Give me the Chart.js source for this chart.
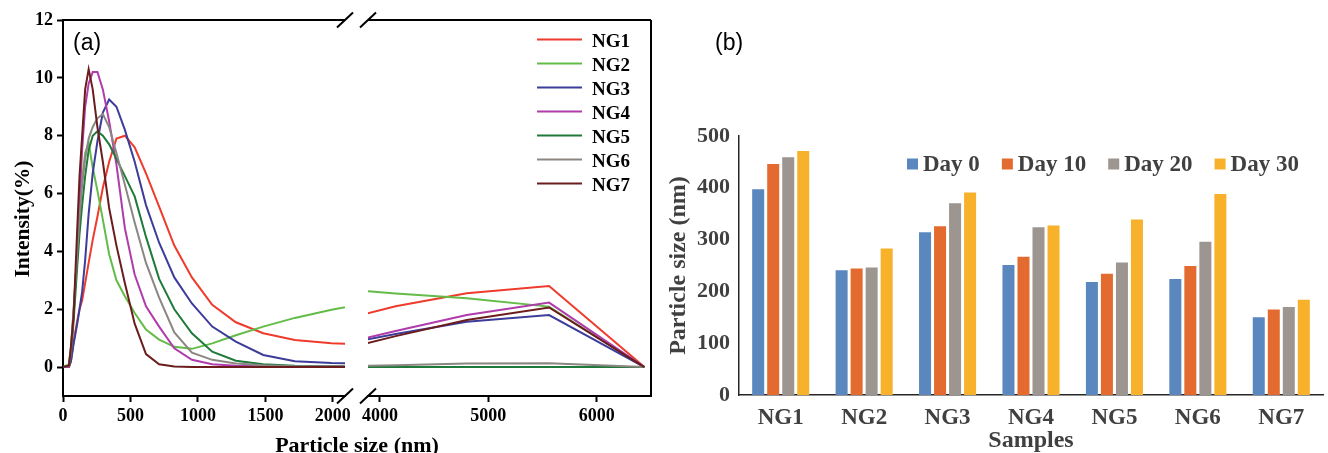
<!DOCTYPE html>
<html>
<head>
<meta charset="utf-8">
<script src="https://cdn.jsdelivr.net/npm/chart.js@4.4.1/dist/chart.umd.min.js"></script>
<style>
  body { margin: 0; background: #fff; }
  #wrap { position: relative; width: 1328px; height: 453px; overflow: hidden; background: #fff; }
  canvas { position: absolute; top: 0; }
  .lbl { position: absolute; white-space: nowrap; color: #000; }
  .panel { font: 23px "Liberation Sans", Arial, sans-serif; line-height: 23px; top: 31px; }
  .ttl { font: bold 22px "Liberation Serif", "Times New Roman", serif; line-height: 24px; text-align: center; width: 240px; }
</style>
</head>
<body>
<div id="wrap">
  <canvas id="chart-left" width="360" height="453" style="left:0"></canvas>
  <canvas id="chart-right" width="315" height="453" style="left:350px"></canvas>
  <canvas id="chart-bar" width="688" height="453" style="left:640px"></canvas>
  <div class="lbl panel" style="left:73px">(a)</div>
  <div class="lbl panel" style="left:715px">(b)</div>
  <div class="lbl ttl" style="left:-98px; top:207px; transform: rotate(-90deg); font-size:21.5px">Intensity(%)</div>
  <div class="lbl ttl" style="left:237px; top:433px">Particle size (nm)</div>
</div>
<script>
// (a) size distribution, DLS bins in nm (null = inside the axis break)
const sizes = [0.4, 43.82, 58.77, 78.82, 105.7, 122.4, 141.8, 164.2, 190.1, 220.2, 255.0, 295.3,
    342.0, 396.1, 458.7, 531.2, 615.1, 712.4, 825.0, 955.4, 1106, 1281, 1484, 1718, 1990, 2305,
    2669, 3091, 3580, 4145, 4801, 5560, 6439]

const ng1 = [0, 0, 0.2, 0.9, 1.6, 2.0, 2.3, 2.9, 3.6, 4.4, 5.2, 6.2, 7.1, 7.9, 8.0, 7.6, 6.7, 5.55,
    4.2, 3.1, 2.15, 1.55, 1.17, 0.94, 0.82, 0.78, null, null, 1.57, 2.1, 2.55, 2.8, 0]
const ng2 = [0, 0.1, 0.7, 2.0, 4.0, 5.3, 6.5, 7.4, 7.75, 6.9, 6.1, 5.1, 3.9, 3.0, 2.45, 1.87, 1.3, 0.95,
    0.7, 0.63, 0.82, 1.1, 1.4, 1.7, 1.98, 2.26, null, null, 2.72, 2.54, 2.38, 2.09, 0]
const ng3 = [0, 0, 0.2, 0.8, 1.5, 2.0, 2.6, 3.7, 5.3, 6.7, 7.8, 8.8, 9.25, 9.0, 8.2, 7.1, 5.6, 4.3,
    3.1, 2.2, 1.4, 0.88, 0.42, 0.2, 0.14, 0.12, null, null, 0.75, 1.14, 1.57, 1.8, 0]
const ng4 = [0, 0, 0.5, 1.8, 4.0, 5.8, 7.5, 9.0, 9.8, 10.2, 10.2, 9.6, 8.5, 7.0, 4.8, 3.2, 2.1, 1.4,
    0.65, 0.25, 0.1, 0.05, 0.03, 0.02, 0.02, 0.02, null, null, 0.75, 1.25, 1.8, 2.23, 0]
const ng5 = [0, 0.05, 0.5, 1.6, 3.5, 4.6, 5.6, 6.6, 7.5, 8.0, 8.15, 8.0, 7.7, 7.2, 6.6, 5.9, 4.5, 3.05,
    2.0, 1.17, 0.53, 0.22, 0.1, 0.05, 0.03, 0.02, null, null, 0, 0, 0, 0, 0]
const ng6 = [0, 0.05, 0.6, 2.0, 4.0, 5.2, 6.3, 7.2, 7.9, 8.3, 8.6, 8.75, 8.3, 7.4, 6.3, 5.0, 3.6, 2.4,
    1.2, 0.5, 0.25, 0.12, 0.06, 0.03, 0.03, 0.03, null, null, 0.02, 0.06, 0.12, 0.13, 0]
const ng7 = [0, 0.05, 0.7, 1.8, 4.8, 6.6, 8.0, 9.6, 10.3, 9.6, 8.3, 7.1, 5.5, 4.2, 2.9, 1.5, 0.45, 0.1,
    0.02, 0, 0, 0, 0, 0, 0, 0, null, null, 0.55, 1.07, 1.63, 2.06, 0]

const seriesNames = ['NG1', 'NG2', 'NG3', 'NG4', 'NG5', 'NG6', 'NG7']
const seriesColors = ['#EE3B2C', '#63BC48', '#3C3C9A', '#B03CAC', '#1F7A3A', '#8B8682', '#6B1D1D']

const yTicks = [0, 2, 4, 6, 8, 10, 12]
const xTicksLeft = [0, 500, 1000, 1500, 2000]
const xTicksRight = [4000, 5000, 6000]

// (b) particle size over storage
const samples = ['NG1', 'NG2', 'NG3', 'NG4', 'NG5', 'NG6', 'NG7']
const days = ['Day 0', 'Day 10', 'Day 20', 'Day 30']
const day0 = [397, 241, 314, 251, 218, 224, 150]
const day10 = [446, 244, 326, 267, 234, 249, 165]
const day20 = [459, 246, 370, 324, 256, 296, 170]
const day30 = [471, 283, 391, 327, 339, 388, 184]
const dayColors = ['#5B87BF', '#E46B2F', '#9D958F', '#F8B12B']

Chart.defaults.font.family = '"Liberation Serif", "Times New Roman", serif'
Chart.defaults.animation = false

const allSeries = [ng1, ng2, ng3, ng4, ng5, ng6, ng7]

let lineDatasets = () => allSeries.map((vals, i) => ({
    label: seriesNames[i],
    data: sizes.map((s, k) => ({x: s, y: vals[k]})),
    borderColor: seriesColors[i],
    borderWidth: 2,
    pointRadius: 0,
    tension: 0,
    order: allSeries.length - i
}))

// top / right frame lines and the "//" axis break marks
const frame = {
    id: 'frame',
    afterDraw(chart, args, opts) {
        const {ctx, chartArea: a} = chart
        ctx.save()
        ctx.strokeStyle = '#000'
        ctx.lineWidth = 2
        ctx.beginPath()
        ctx.moveTo(a.left, a.top)
        ctx.lineTo(a.right, a.top)
        if (opts.right) {
            ctx.moveTo(a.right, a.top)
            ctx.lineTo(a.right, a.bottom)
        }
        ctx.stroke()
        const bx = opts.breakSide === 'right' ? a.right : a.left
        ;[a.top, a.bottom].forEach(y => {
            ctx.beginPath()
            ctx.moveTo(bx - 8, y + 7.5)
            ctx.lineTo(bx + 8, y - 7.5)
            ctx.stroke()
        })
        ctx.restore()
    }
}

const lineLegend = {
    id: 'lineLegend',
    afterDraw(chart) {
        const {ctx, chartArea: a} = chart
        ctx.save()
        ctx.font = 'bold 19px "Liberation Serif", serif'
        chart.data.datasets.forEach((ds, i) => {
            const y = a.top + 19.5 + i * 24
            ctx.strokeStyle = ds.borderColor
            ctx.lineWidth = 2
            ctx.beginPath()
            ctx.moveTo(a.left + 169, y)
            ctx.lineTo(a.left + 214, y)
            ctx.stroke()
            ctx.fillStyle = '#000'
            ctx.fillText(ds.label, a.left + 224, y + 7)
        })
        ctx.restore()
    }
}

const barLegend = {
    id: 'barLegend',
    afterDraw(chart) {
        const {ctx, chartArea: a} = chart
        ctx.save()
        ctx.font = 'bold 23px "Liberation Serif", serif'
        let x = a.left + 168
        const y = a.top + 28
        chart.data.datasets.forEach(ds => {
            ctx.fillStyle = ds.backgroundColor
            ctx.fillRect(x, y - 5.5, 11, 11)
            x += 16
            ctx.fillStyle = '#404040'
            ctx.fillText(ds.label, x, y + 7)
            x += ctx.measureText(ds.label).width + 22
        })
        ctx.restore()
    }
}

let axisStyle = (ticks) => ({
    type: 'linear',
    afterBuildTicks: s => { s.ticks = ticks.map(v => ({value: v})) },
    grid: { drawOnChartArea: false, drawTicks: true, tickLength: 6, tickWidth: 2, tickColor: '#000' },
    border: { display: true, color: '#000', width: 2 },
    ticks: { color: '#000', padding: 4, font: { size: 18, weight: 'bold' }, callback: v => String(v) }
})

const leftX = axisStyle(xTicksLeft)
leftX.min = 0
leftX.max = 2090
leftX.afterFit = s => { s.height = 57 }
const leftY = axisStyle(yTicks)
leftY.min = -1
leftY.max = 12
leftY.afterFit = s => { s.width = 63 }

new Chart(document.getElementById('chart-left'), {
    type: 'line',
    data: { datasets: lineDatasets() },
    options: {
        responsive: false,
        layout: { padding: { left: 0, top: 20, right: 15, bottom: 0 } },
        scales: { x: leftX, y: leftY },
        plugins: { legend: { display: false }, tooltip: { enabled: false }, frame: { breakSide: 'right', right: false } }
    },
    plugins: [frame]
})

const rightX = axisStyle(xTicksRight)
rightX.min = 3890
rightX.max = 6500
rightX.afterFit = s => { s.height = 57 }

new Chart(document.getElementById('chart-right'), {
    type: 'line',
    data: { datasets: lineDatasets() },
    options: {
        responsive: false,
        layout: { padding: { left: 18, top: 20, right: 14, bottom: 0 } },
        scales: { x: rightX, y: { type: 'linear', min: -1, max: 12, display: false } },
        plugins: { legend: { display: false }, tooltip: { enabled: false }, frame: { breakSide: 'left', right: true } }
    },
    plugins: [frame, lineLegend]
})

const dayData = [day0, day10, day20, day30]

new Chart(document.getElementById('chart-bar'), {
    type: 'bar',
    data: {
        labels: samples,
        datasets: dayData.map((vals, i) => ({
            label: days[i],
            data: vals,
            backgroundColor: dayColors[i],
            borderWidth: 0,
            categoryPercentage: 0.72,
            barPercentage: 0.8
        }))
    },
    options: {
        responsive: false,
        layout: { padding: { left: 20, top: 136, right: 5, bottom: 0 } },
        scales: {
            x: {
                afterFit: s => { s.height = 58 },
                grid: { display: false, drawTicks: false },
                border: { display: true, color: '#262626', width: 1.5 },
                ticks: { color: '#404040', padding: 9, font: { size: 23, weight: 'bold' } },
                title: { display: true, text: 'Samples', color: '#404040', padding: { top: 0, bottom: -2 }, font: { size: 24, weight: 'bold' } }
            },
            y: {
                min: 0,
                max: 500,
                afterFit: s => { s.width = 79 },
                grid: { display: false, drawTicks: false },
                border: { display: true, color: '#262626', width: 1.5 },
                ticks: { stepSize: 100, color: '#404040', padding: 9, font: { size: 22, weight: 'bold' } },
                title: { display: true, text: 'Particle size (nm)', color: '#404040', padding: { top: 4, bottom: 0 }, font: { size: 24, weight: 'bold' } }
            }
        },
        plugins: { legend: { display: false }, tooltip: { enabled: false } }
    },
    plugins: [barLegend]
})
</script>
</body>
</html>
